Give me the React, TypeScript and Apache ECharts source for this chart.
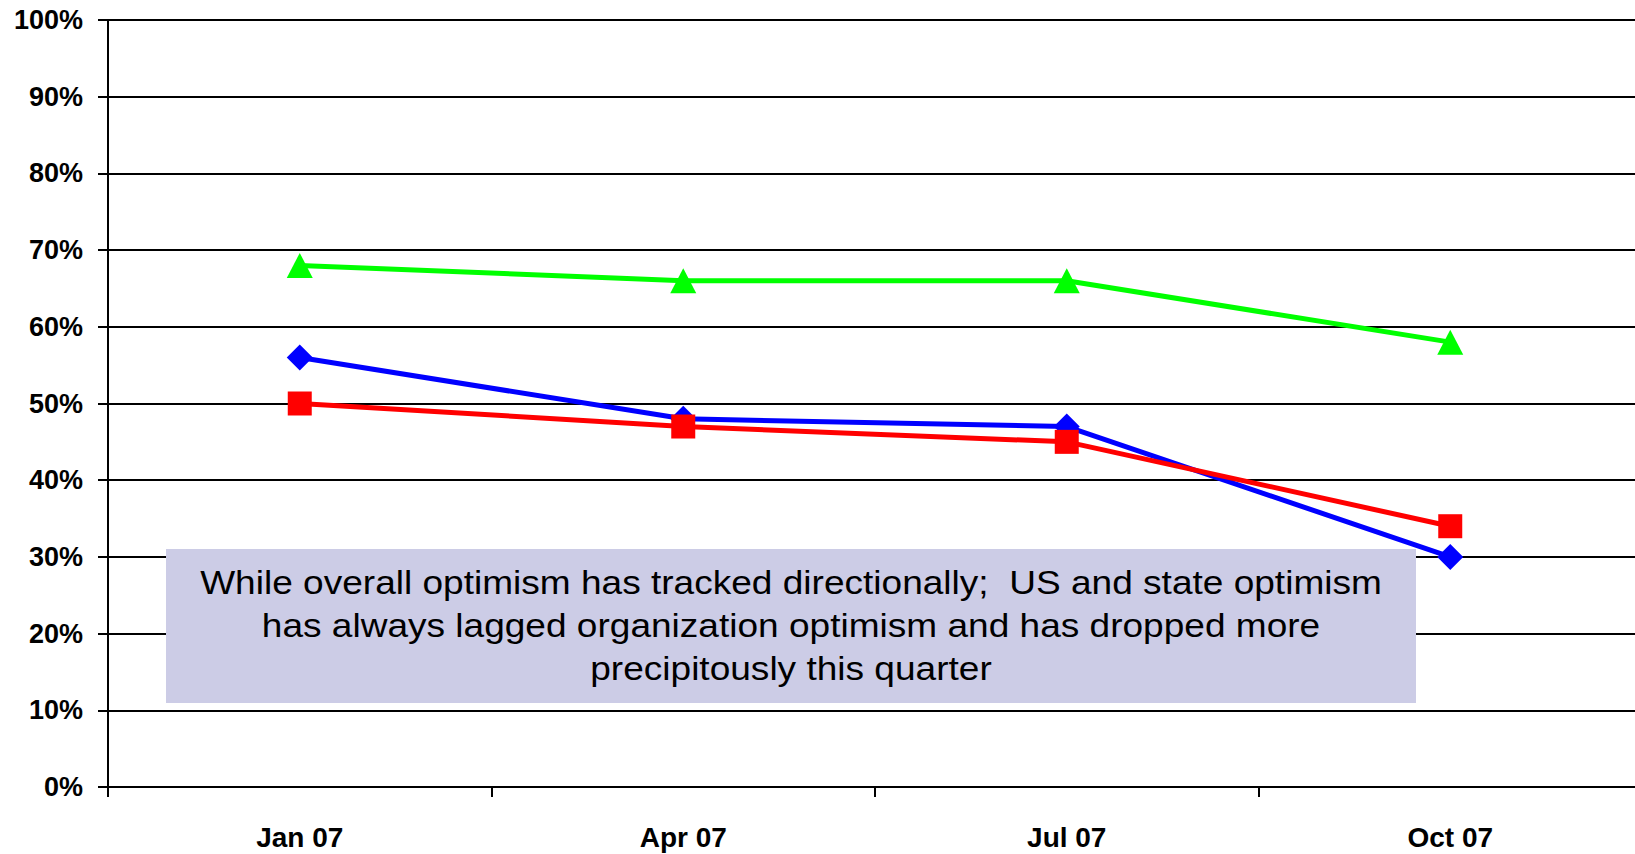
import React, { useEffect, useRef } from "react";
import * as echarts from "echarts";

const categories = ["Jan 07", "Apr 07", "Jul 07", "Oct 07"];
const blueSeries = [56, 48, 47, 30];
const redSeries = [50, 47, 45, 34];
const greenSeries = [68, 66, 66, 58];
const yTicks = [0, 10, 20, 30, 40, 50, 60, 70, 80, 90, 100];
const noteLines = [
  "While overall optimism has tracked directionally;  US and state optimism",
  "has always lagged organization optimism and has dropped more",
  "precipitously this quarter",
];

const FONT = "'Liberation Sans', Arial, Helvetica, sans-serif";

export default function App() {
  const ref = useRef<HTMLDivElement>(null);
  useEffect(() => {
    if (!ref.current) return;
    const chart = echarts.init(ref.current, null, { renderer: "svg" });
    const mk = (name: string, data: number[], color: string, symbol: string, size: any) => ({
      name,
      type: "line",
      data,
      symbol,
      symbolSize: size,
      showSymbol: true,
      lineStyle: { color, width: 5 },
      itemStyle: { color, borderWidth: 0 },
      emphasis: { disabled: true },
      z: 3,
    });
    chart.setOption({
      animation: false,
      backgroundColor: "#ffffff",
      grid: { left: 108, top: 20, width: 1534, height: 767, containLabel: false },
      xAxis: {
        type: "category",
        data: categories,
        boundaryGap: true,
        axisLine: { show: true, lineStyle: { color: "#000", width: 2 } },
        axisTick: { show: true, length: 10, lineStyle: { color: "#000", width: 2 } },
        axisLabel: {
          color: "#000",
          fontSize: 28,
          fontWeight: "bold",
          fontFamily: FONT,
          margin: 36,
        },
        splitLine: { show: false },
      },
      yAxis: {
        type: "value",
        min: yTicks[0],
        max: yTicks[yTicks.length - 1],
        interval: 10,
        axisLine: { show: true, lineStyle: { color: "#000", width: 2 } },
        axisTick: { show: true, length: 10, lineStyle: { color: "#000", width: 2 } },
        axisLabel: {
          color: "#000",
          fontSize: 27,
          fontWeight: "bold",
          fontFamily: FONT,
          margin: 25,
          formatter: "{value}%",
        },
        splitLine: { show: true, lineStyle: { color: "#000", width: 2 } },
      },
      series: [
        mk("US", blueSeries, "#0000ff", "diamond", 26),
        mk("State", redSeries, "#ff0000", "rect", 24),
        mk("Organization", greenSeries, "#00ff00", "triangle", [26, 25]),
      ],
      graphic: [
        {
          type: "rect",
          z: 100,
          shape: { x: 166, y: 549, width: 1250, height: 154 },
          style: { fill: "#ccccE6" },
        },
        {
          type: "text",
          z: 101,
          x: 791,
          y: 626,
          scaleX: 1.09,
          style: {
            text: noteLines.join("\n"),
            fill: "#000",
            fontSize: 34,
            lineHeight: 43,
            fontFamily: FONT,
            align: "center",
            verticalAlign: "middle",
          },
        },
      ],
    });
    return () => chart.dispose();
  }, []);
  return (
    <div
      style={{
        position: "fixed",
        left: 0,
        top: 0,
        width: 1635,
        height: 854,
        overflow: "hidden",
        background: "#fff",
      }}
    >
      <div ref={ref} style={{ width: 1650, height: 854 }} />
    </div>
  );
}
